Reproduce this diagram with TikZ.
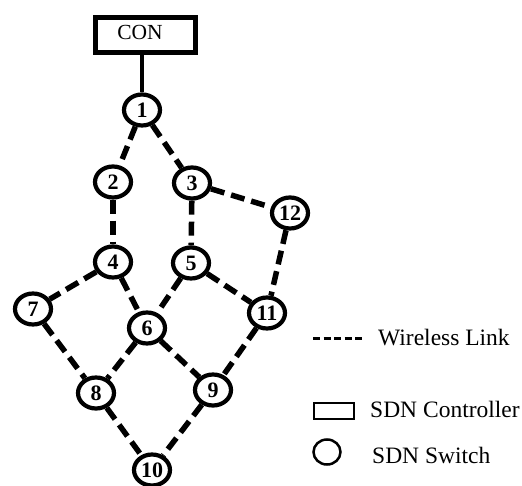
\documentclass[tikz,border=0pt]{standalone}
\usepackage{fontspec}
\setmainfont{Liberation Serif}
\usetikzlibrary{shapes.geometric}
\begin{document}
\begin{tikzpicture}[x=1pt,y=-1pt,
  sw/.style={draw, ellipse, line width=4.2pt, minimum width=36pt, minimum height=31pt, inner sep=0pt,
    font=\fontsize{22}{22}\selectfont\bfseries},
  wl/.style={line width=5.5pt, dash pattern=on 14pt off 7pt},
  conbox/.style={draw, line width=5pt, minimum width=100pt, minimum height=35pt, inner sep=0pt},
  legtext/.style={anchor=west, inner sep=0pt, font=\fontsize{23.5}{26}\selectfont}]
\useasboundingbox (0,0) rectangle (522,486);
\node[conbox] (con) at (145.5,35) {};
\node[inner sep=0pt, font=\fontsize{21.5}{22}\selectfont] (context) at (140,32) {CON};
\node[sw] (n1) at (142,110) {1};
\node[sw] (n2) at (113,182) {2};
\node[sw] (n3) at (192,183) {3};
\node[sw] (n12) at (290,213) {12};
\node[sw] (n4) at (113,262) {4};
\node[sw] (n5) at (191,263) {5};
\node[sw] (n7) at (33,309) {7};
\node[sw] (n6) at (147,328) {6};
\node[sw] (n11) at (267,313) {11};
\node[sw] (n8) at (96,393) {8};
\node[sw] (n9) at (213,390) {9};
\node[sw] (n10) at (152,470) {10};
\draw[line width=4pt] (n1.north |- con.south) -- (n1.north);
\draw[wl] (n1) -- (n2);
\draw[wl] (n1) -- (n3);
\draw[wl] (n2) -- (n4);
\draw[wl] (n3) -- (n5);
\draw[wl] (n3) -- (n12);
\draw[wl] (n12) -- (n11);
\draw[wl] (n4) -- (n7);
\draw[wl] (n4) -- (n6);
\draw[wl] (n5) -- (n6);
\draw[wl] (n5) -- (n11);
\draw[wl] (n7) -- (n8);
\draw[wl] (n6) -- (n8);
\draw[wl] (n6) -- (n9);
\draw[wl] (n11) -- (n9);
\draw[wl] (n8) -- (n10);
\draw[wl] (n9) -- (n10);
% legend
\coordinate (la) at (313,338);
\coordinate (lb) at (362,338);
\draw[line width=3pt, dash pattern=on 7pt off 3.5pt] (la) -- (lb);
\node[legtext] (t1) at (378,338) {Wireless Link};
\node[draw, line width=2.8pt, minimum width=40pt, minimum height=16pt, inner sep=0pt] (lrect) at (334,411) {};
\node[legtext] (t2) at (370,409) {SDN Controller};
\node[draw, ellipse, line width=2.5pt, minimum width=27pt, minimum height=25pt, inner sep=0pt] (lcirc) at (327,452) {};
\node[legtext] (t3) at (372,455) {SDN Switch};
\end{tikzpicture}
\end{document}
